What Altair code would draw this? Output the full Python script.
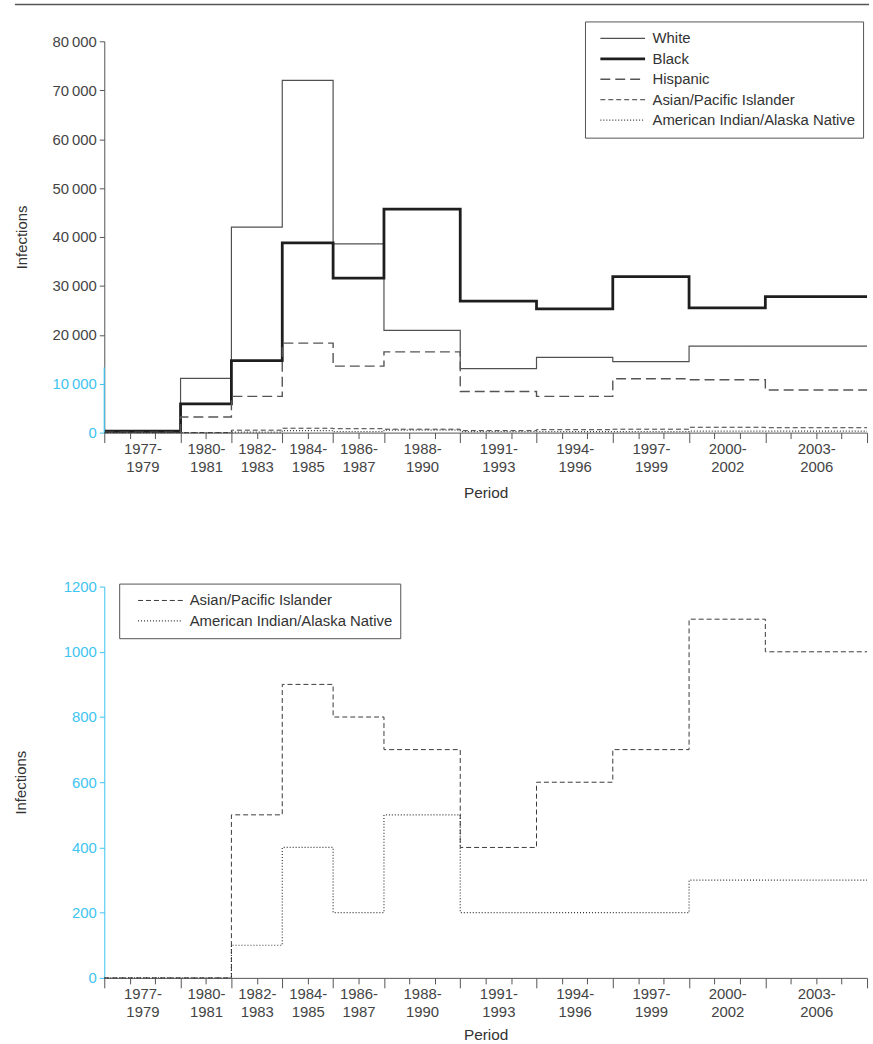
import altair as alt
import pandas as pd

# ---- data ----
period_start = [1977, 1980, 1982, 1984, 1986, 1988, 1991, 1994, 1997, 2000, 2003]
period_end = [1979, 1981, 1983, 1985, 1987, 1990, 1993, 1996, 1999, 2002, 2006]
last_year = 2007

groups = ["White", "Black", "Hispanic", "Asian/Pacific Islander",
          "American Indian/Alaska Native"]
white = [100, 11100, 42000, 72000, 38600, 20900, 13100, 15400, 14500, 17700, 17700]
black = [300, 5900, 14700, 38800, 31600, 45700, 26900, 25300, 31900, 25500, 27800]
hispanic = [100, 3200, 7400, 18300, 13600, 16500, 8400, 7400, 11000, 10800, 8700]
asian = [0, 0, 500, 900, 800, 700, 400, 600, 700, 1100, 1000]
aian = [0, 0, 100, 400, 200, 500, 200, 200, 200, 300, 300]
series = dict(zip(groups, [white, black, hispanic, asian, aian]))

top_ticks = list(range(0, 80001, 10000))
bottom_ticks = list(range(0, 1201, 200))

# ---- styles ----
FONT = "Liberation Sans"
TXT = "#444444"
AX = "#555555"
CYAN = "#40c4f0"
line_colors = ["#505050", "#1e1e1e", "#555555", "#3a3a3a", "#333333"]
line_widths = [1.2, 2.8, 1.4, 1.0, 1.2]
line_dashes = [[1, 0], [1, 0], [10, 5], [5, 3], [1, 2]]
style = {g: (c, w, d) for g, c, w, d in zip(groups, line_colors, line_widths, line_dashes)}

W = 768


def step_frame(names):
    rows = []
    for g in names:
        vals = series[g]
        for s, v in zip(period_start, vals):
            rows.append({"Group": g, "Year": s, "Infections": v})
        rows.append({"Group": g, "Year": last_year, "Infections": vals[-1]})
    return pd.DataFrame(rows)


boundaries = period_start + [last_year]
minor_years = [y for y in range(period_start[0], last_year + 1) if y not in boundaries]
mids = [(s + e + 1) / 2 for s, e in zip(period_start, period_end)]
label_expr = " : ".join(
    f"datum.value == {m} ? ['{s}-', '{e}']" for m, s, e in zip(mids, period_start, period_end)
) + " : ''"

xscale = alt.Scale(domain=[period_start[0], last_year], nice=False, zero=False)


def panel(names, ymax, yvals, height, legend_x, legend_y, sym_off, cyan_all, title_pad,
          xtitle_pad, deco, ylab_expr):
    df = step_frame(names)
    yscale = alt.Scale(domain=[0, ymax], nice=False)
    leg = alt.Legend(
        title=None, orient="none", legendX=legend_x, legendY=legend_y,
        symbolType="stroke", symbolSize=2025, symbolOffset=sym_off,
        labelFontSize=15, labelColor="#333333", labelExpr="datum.label + ' '",
        labelFont=FONT, fillColor="white", strokeColor=AX, padding=7,
        labelOffset=6, rowPadding=0.6, labelLimit=0, clipHeight=20,
    )
    dom = names
    if cyan_all:
        lab_color = CYAN
        tick_color = CYAN
        dom_color = CYAN
    else:
        lab_color = {"condition": {"test": "datum.value <= 10000", "value": CYAN}, "value": TXT}
        tick_color = {"condition": {"test": "datum.value <= 10000", "value": CYAN}, "value": AX}
        dom_color = AX
    yaxis = alt.Axis(
        values=yvals, title="Infections", grid=False, tickSize=5, tickColor=tick_color,
        labelColor=lab_color, domainColor=dom_color, labelFontSize=15, titleFontSize=15,
        titleFontWeight="normal", titleColor="#333333", labelPadding=3, titlePadding=title_pad,
        labelExpr=ylab_expr,
    )
    label_axis = alt.Axis(
        values=mids, labelExpr=label_expr, ticks=False, tickSize=0, domain=False, grid=False,
        labelFontSize=15, labelColor=TXT, labelPadding=9, labelLineHeight=18,
        title="Period", titleFontSize=15.5, titleFontWeight="normal", titleColor="#333333",
        titlePadding=xtitle_pad, orient="bottom", labelOverlap=False,
    )
    major_axis = alt.Axis(
        values=boundaries, labels=False, tickSize=10, tickColor=AX, domainColor=AX,
        grid=False, title=None, orient="bottom",
    )
    minor_axis = alt.Axis(
        values=minor_years, labels=False, tickSize=6, tickColor=AX, domain=False,
        grid=False, title=None, orient="bottom",
    )
    size = dict(width=W, height=height)
    lines = alt.Chart(df).mark_line(interpolate="step-after").encode(
        x=alt.X("Year:Q", scale=xscale, axis=label_axis),
        y=alt.Y("Infections:Q", scale=yscale, axis=yaxis),
        color=alt.Color("Group:N", scale=alt.Scale(domain=dom, range=[style[g][0] for g in dom]), legend=leg),
        strokeDash=alt.StrokeDash("Group:N", scale=alt.Scale(domain=dom, range=[style[g][2] for g in dom]), legend=leg),
        strokeWidth=alt.StrokeWidth("Group:N", scale=alt.Scale(type="ordinal", domain=dom, range=[style[g][1] for g in dom]), legend=leg),
    ).properties(**size)
    major = alt.Chart(df).mark_point(opacity=0).encode(
        x=alt.X("Year:Q", scale=xscale, axis=major_axis),
        y=alt.Y("Infections:Q", scale=yscale, axis=None),
    ).properties(**size)
    minor = alt.Chart(df).mark_point(opacity=0).encode(
        x=alt.X("Year:Q", scale=xscale, axis=minor_axis),
        y=alt.Y("Infections:Q", scale=yscale, axis=None),
    ).properties(**size)
    layers = [lines, major, minor]
    if not cyan_all:
        seg = alt.Chart(df).transform_aggregate(n="count()").transform_calculate(
            y0="0", y1="13300"
        ).mark_rule(color=CYAN, strokeWidth=1.2).encode(
            x=alt.value(0),
            y=alt.Y("y0:Q", scale=yscale, axis=None),
            y2="y1:Q",
        ).properties(**size)
        layers.append(seg)
    if deco:
        rule = alt.Chart(df).transform_aggregate(n="count()").mark_rule(
            color="#555555", strokeWidth=1.5
        ).encode(
            x=alt.value(-90), x2=alt.value(W + 2), y=alt.value(-37)
        ).properties(**size)
        layers.append(rule)
    return alt.layer(*layers).resolve_axis(x="independent", y="independent")


top = panel(groups, 80000, top_ticks, 394, 484, -20, 7, False, 23, 11, True,
            "replace(format(datum.value, ','), ',', '\u2009')")
bottom = panel(groups[3:], 1200, bottom_ticks, 394, 15, -3, 11, True, 35, 8, False,
               "format(datum.value, 'd')")

chart = alt.vconcat(top, bottom, spacing=79).resolve_scale(
    color="independent", strokeDash="independent", strokeWidth="independent"
).properties(
    padding={"left": 13, "top": 0, "right": 0, "bottom": 0}
).configure_view(stroke=None).configure_axis(
    labelFont=FONT, titleFont=FONT
)

chart.save("out.html", embed_options={"renderer": "svg", "actions": False})
